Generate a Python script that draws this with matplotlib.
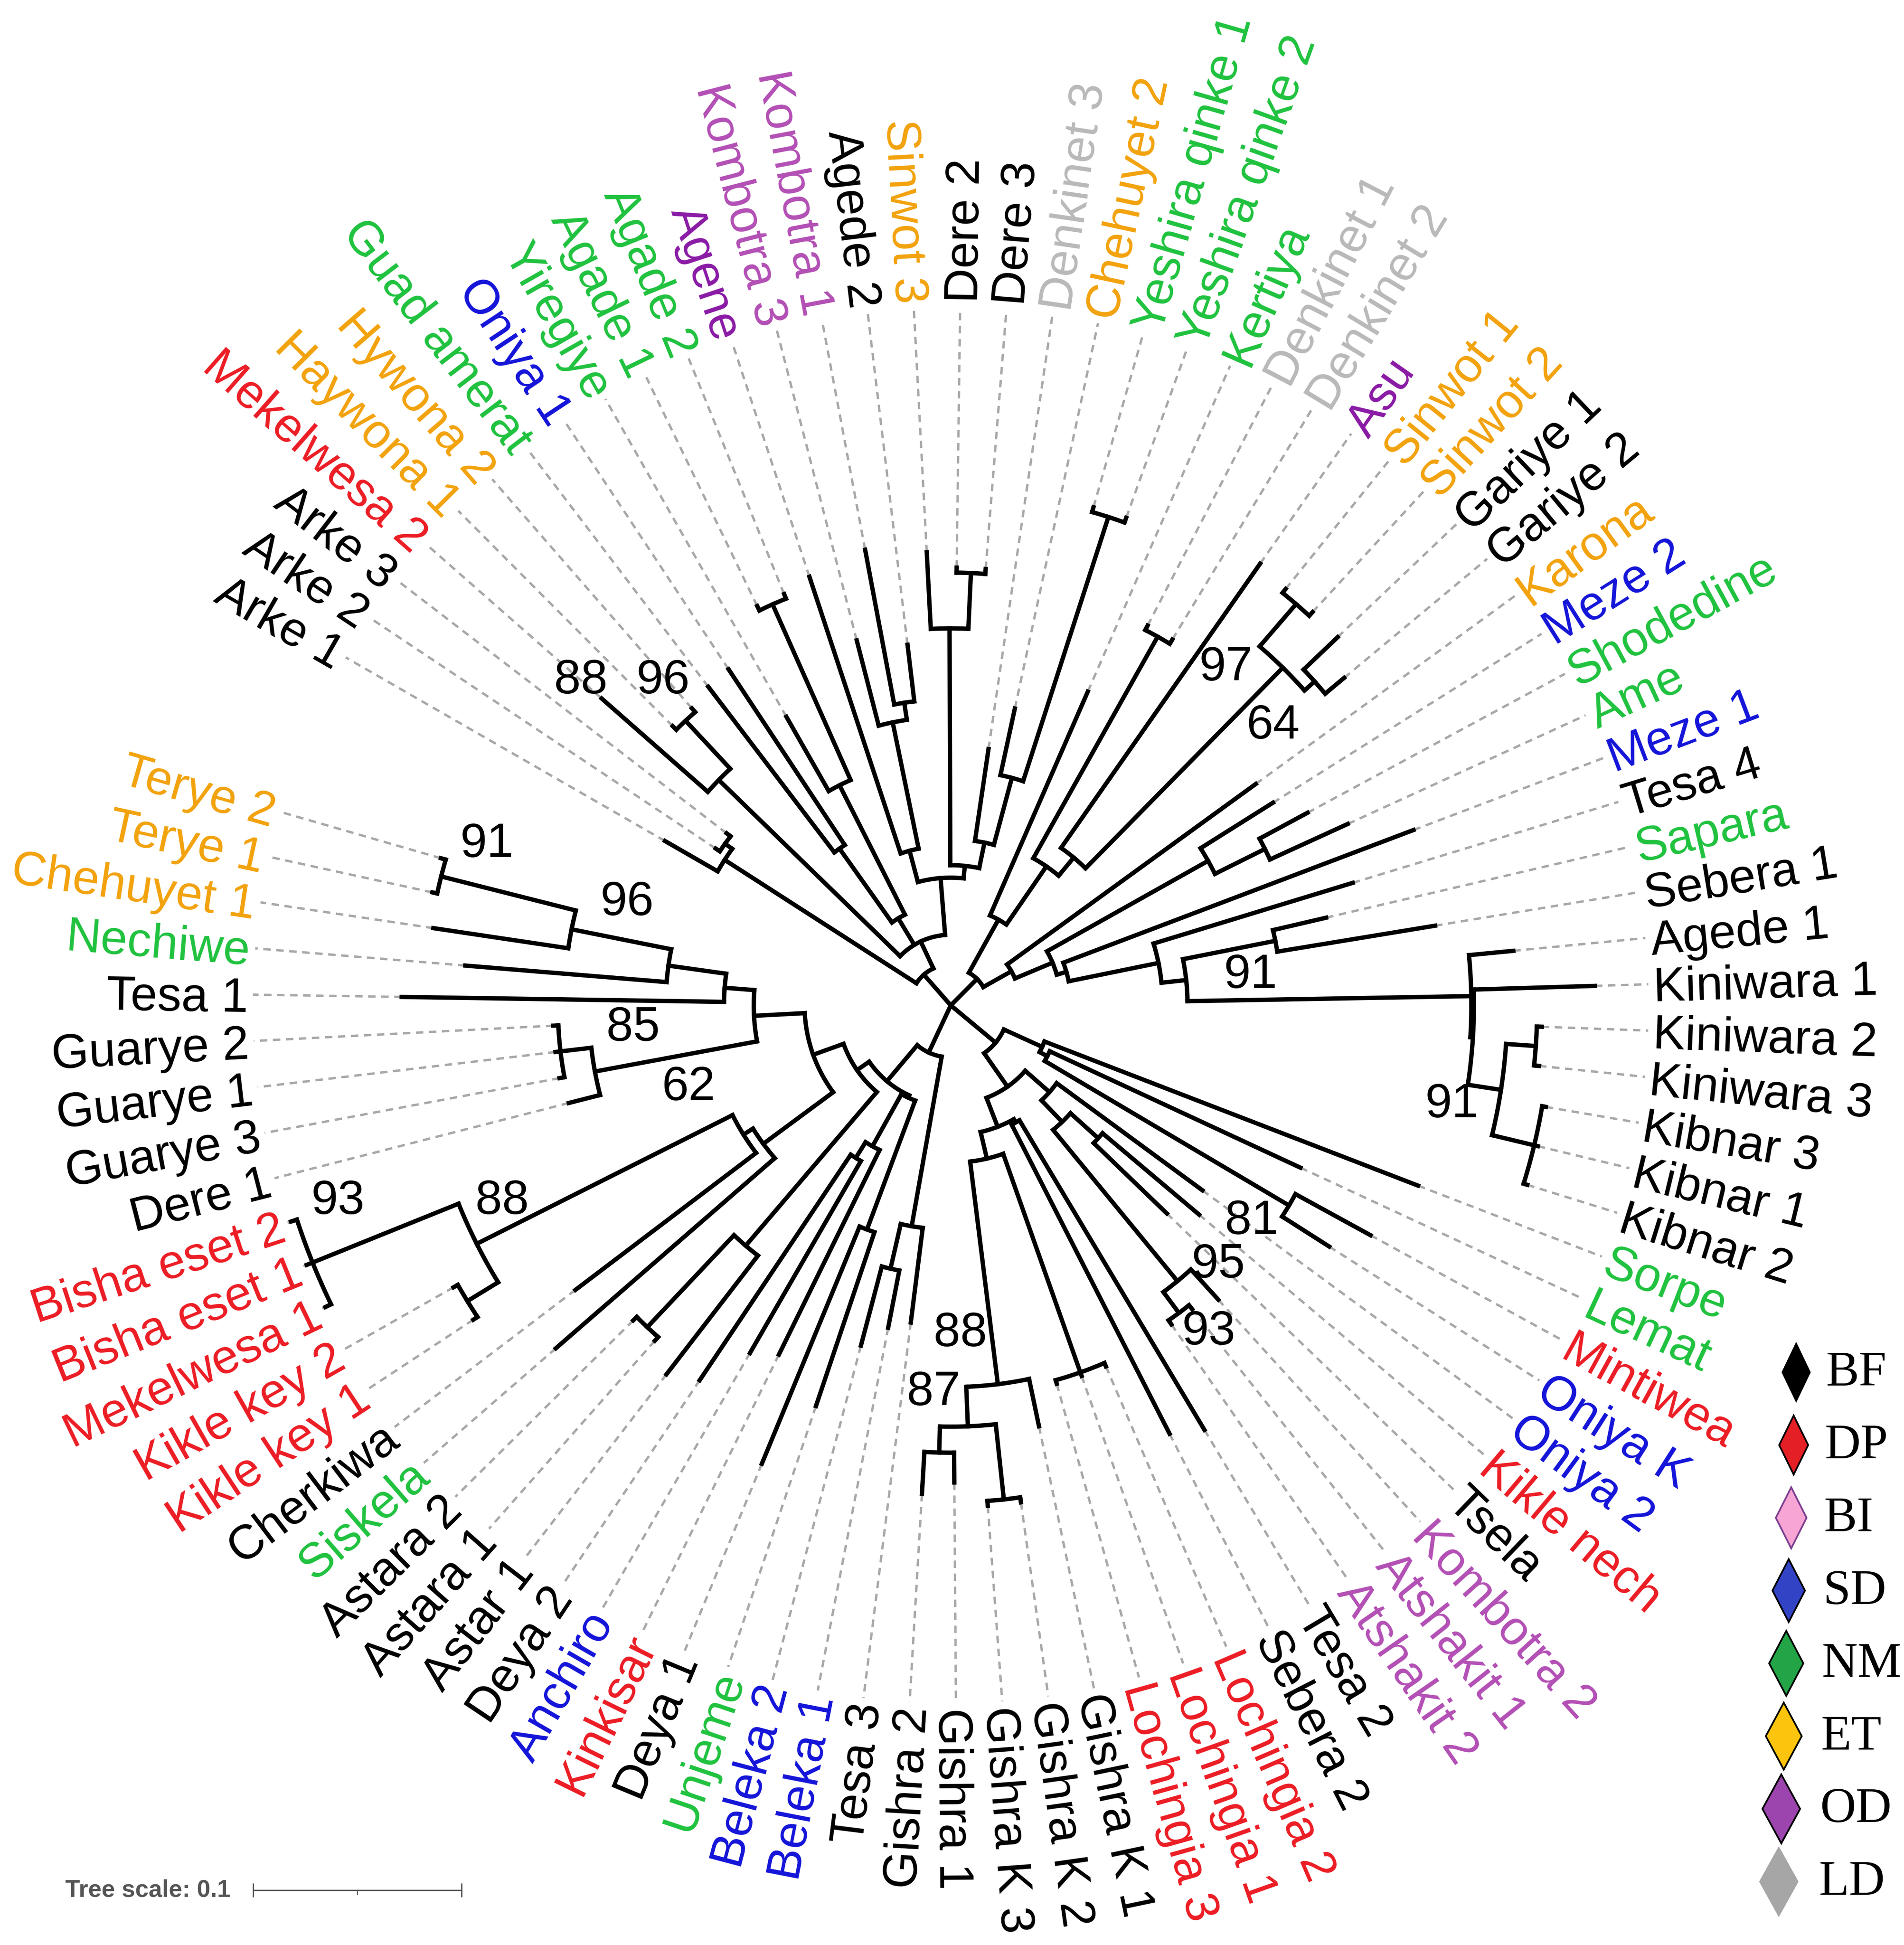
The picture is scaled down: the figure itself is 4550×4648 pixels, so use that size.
import re
import numpy as np
import matplotlib
matplotlib.use("Agg")
import matplotlib.pyplot as plt
from matplotlib.collections import LineCollection
from matplotlib.patches import Polygon

plt.rcParams["lines.scale_dashes"] = False

# ---------------- data ----------------
# four clades hanging off the (multifurcating) root; branch lengths in subst./site,
# internal labels are bootstrap support
CLADE_A = ("((Arke_1:0.0292,(Arke_2:0.0024,Arke_3:0.0024):0.0042):0.1095,"
           "((Mekelwesa_2:0.0679,(Haywona_1:0.0024,Hywona_2:0.0024)96:0.0315)88:0.1214,"
           "((Guad_amerat:0.1000,Oniya_1:0.1012):0.0435,(Yiregiye:0.0411,(Agade_1:0.0024,Agade_2:0.0024):0.0923):0.0696):0.0149,"
           "((Agene:0.1399,(Kombotra_3:0.0423,(Kombotra_1:0.0756,Agede_2:0.0274):0.0083):0.0619):0.0155,"
           "((Sinwot_3:0.0369,(Dere_2:0.0024,Dere_3:0.0024):0.0268):0.1137,"
           "(Denkinet_3:0.0446,(Chehuyet_2:0.0327,(Yeshira_qinke_1:0.0024,Yeshira_qinke_2:0.0024):0.1333):0.0333):0.0125)"
           ":0.0060):0.0274):0.0143):0.0196")
CLADE_B = ("((Kertiya:0.1173,((Denkinet_1:0.0024,Denkinet_2:0.0024):0.1220,"
           "(Asu:0.1667,((Sinwot_1:0.0024,Sinwot_2:0.0024):0.0268,(Gariye_1:0.0226,Gariye_2:0.0119)64:0.0065)97:0.1351)"
           ":0.0113):0.0339):0.0292,"
           "(Karona:0.1476,((Meze_2:0.0411,(Shodedine:0.0262,Ame:0.0411):0.0268):0.0887,"
           "(Meze_1:0.1798,(Tesa_4:0.1000,((Sapara:0.0262,Sebera_1:0.0768):0.0452,"
           "(Agede_1:0.0214,(Kiniwara_1:0.0583,((Kiniwara_2:0.0024,Kiniwara_3:0.0024):0.0143,"
           "(Kibnar_3:0.0018,Kibnar_1:0.0018,Kibnar_2:0.0018):0.0208)91:0.0161):0.0012):0.1363)91:0.0119)"
           ":0.0440):0.0048):0.0196):0.0155):0.0179")
CLADE_C = ("((Sorpe:0.1923,(Lemat:0.1327,(Mintiwea:0.0411,Oniya_K:0.0268)81:0.1363):0.0042):0.0202,"
           "((Oniya_2:0.0869,((Kikle_nech:0.0607,Tsela:0.0488):0.0179,"
           "(Kombotra_2:0.0196,(Atshakit_1:0.0024,Atshakit_2:0.0024)93:0.0125)95:0.0940):0.0143):0.0155,"
           "((Tesa_2:0.1732,Sebera_2:0.1667):0.0018,((Lochingia_2:0.0018,Lochingia_1:0.0018,Lochingia_3:0.0018):0.1113,"
           "(Gishra_K_1:0.0232,((Gishra_K_2:0.0024,Gishra_K_3:0.0024):0.0363,(Gishra_1:0.0143,Gishra_2:0.0202):0.0125)87:0.0190)88:0.1077)"
           ":0.0131):0.0149):0.0196):0.0280")
CLADE_D = ("((Tesa_3:0.0458,(Beleka_1:0.0280,Beleka_2:0.0393):0.0220):0.0827,"
           "(((Unjeme:0.0881,Deya_1:0.1232):0.0661,(Kinkisar:0.1095,(Anchiro:0.1065,Deya_2:0.1304):0.0089):0.0286):0.0012,"
           "((Astar_1:0.0720,(Astara_1:0.0024,Astara_2:0.0024):0.0607):0.0970,"
           "((Siskela:0.1393,(Cherkiwa:0.1089,((Kikle_key_1:0.0024,Kikle_key_2:0.0024):0.0173,"
           "(Mekelwesa_1:0.0030,Bisha_eset_1:0.0030,Bisha_eset_2:0.0030)93:0.0756)88:0.1375):0.0054):0.0417,"
           "((Dere_1:0.0155,(Guarye_3:0.0024,Guarye_1:0.0024,Guarye_2:0.0024)85:0.0149)62:0.0792,"
           "(Tesa_1:0.1548,(Nechiwe:0.0970,(Chehuyet_1:0.0655,(Terye_1:0.0024,Terye_2:0.0024)91:0.0667)96:0.0488)"
           ":0.0280):0.0143):0.0244):0.0155):0.0071):0.0226):0.0250")
NEWICK = "(" + ",".join([CLADE_A, CLADE_B, CLADE_C, CLADE_D]) + ");"

GROUP_MEMBERS = {
    "DP": ["Mekelwesa 2", "Mintiwea", "Kikle nech", "Lochingia 2", "Lochingia 1", "Lochingia 3",
           "Kinkisar", "Kikle key 1", "Kikle key 2", "Mekelwesa 1", "Bisha eset 1", "Bisha eset 2"],
    "ET": ["Haywona 1", "Hywona 2", "Sinwot 3", "Chehuyet 2", "Sinwot 1", "Sinwot 2", "Karona",
           "Chehuyet 1", "Terye 1", "Terye 2"],
    "NM": ["Guad amerat", "Yiregiye", "Agade 1", "Agade 2", "Yeshira qinke 1", "Yeshira qinke 2",
           "Kertiya", "Shodedine", "Ame", "Sapara", "Sorpe", "Lemat", "Unjeme", "Siskela", "Nechiwe"],
    "SD": ["Oniya 1", "Meze 2", "Meze 1", "Oniya K", "Oniya 2", "Beleka 1", "Beleka 2", "Anchiro"],
    "OD": ["Agene", "Asu"],
    "BI": ["Kombotra 3", "Kombotra 1", "Kombotra 2", "Atshakit 1", "Atshakit 2"],
    "LD": ["Denkinet 3", "Denkinet 1", "Denkinet 2"],
}
LABEL_COLOR = {"BF": "#000000", "DP": "#ec1c24", "BI": "#b34fb5", "SD": "#1414d9",
               "NM": "#1fc23e", "ET": "#f2a20c", "OD": "#8a1aa5", "LD": "#b9b9b9"}

LEGEND_GROUPS = ["BF", "DP", "BI", "SD", "NM", "ET", "OD", "LD"]
LEGEND_FILL = ["#000000", "#e41f26", "#f6a5d5", "#3343c6", "#22a447", "#fcc40d", "#9d45ae", "#a6a6a6"]
LEGEND_EDGE = ["#000000", "#000000", "#7d3f8f", "#000000", "#000000", "#000000", "#000000", "none"]
SCALE_VALUE = 0.1

# ---------------- layout (canvas units = 1536 x 1569) ----------------
PX_PER_UNIT = 1680.0
CX, CY = 767.0, 811.0
START_DEG, ARC_DEG = 150.1, 350.0
R_LABEL = 567.0
PT = 0.72 * 4550 / 1536          # points per canvas unit
LABEL_PT = 38.8 * PT
# bootstrap text offset from its node (radius, degrees), pre-order
BOOT_OFFSETS = [(136, 2.9), (36, -1.4), (-31, 5.3), (-49, -0.75), (52, -0.5), (-37, -2.5),
                (-18, -5.1), (13, 6.4), (27, 1.7), (-43, -5.4), (-27, -4.9), (-33, -3.1),
                (-36, -4.2), (-70, 6.9), (-60, -2.6), (-38, -6.2), (-28, -4.9)]


def parse_newick(s):
    s = s.strip().rstrip(";")
    pos = 0

    def read():
        nonlocal pos
        node = {"children": [], "name": "", "length": 0.0}
        if s[pos] == "(":
            pos += 1
            node["children"].append(read())
            while s[pos] == ",":
                pos += 1
                node["children"].append(read())
            pos += 1
        m = re.match(r"[^:,()]*", s[pos:])
        node["name"] = m.group(0).replace("_", " ")
        pos += m.end()
        if pos < len(s) and s[pos] == ":":
            m = re.match(r":([-0-9.eE]+)", s[pos:])
            node["length"] = float(m.group(1))
            pos += m.end()
        return node
    return read()


def n_leaves(n):
    return 1 if not n["children"] else sum(n_leaves(c) for c in n["children"])


tree = parse_newick(NEWICK)
STEP = ARC_DEG / n_leaves(tree)
leaves, internal = [], []


def place(n, depth):
    n["r"] = depth * PX_PER_UNIT
    if not n["children"]:
        n["a"] = START_DEG - len(leaves) * STEP
        leaves.append(n)
        return
    internal.append(n)
    for c in n["children"]:
        place(c, depth + c["length"])
    n["a"] = 0.5 * (n["children"][0]["a"] + n["children"][-1]["a"])


place(tree, 0.0)


def xy(r, a):
    t = np.radians(a)
    return (CX + r * np.cos(t), CY - r * np.sin(t))


branch = []


def edges(n):
    for c in n["children"]:
        branch.append([xy(n["r"], c["a"]), xy(c["r"], c["a"])])
        edges(c)
    if n["children"] and n["r"] > 0:
        a0, a1 = n["children"][0]["a"], n["children"][-1]["a"]
        ts = np.linspace(a0, a1, int(abs(a1 - a0) * 3) + 2)
        branch.append([xy(n["r"], t) for t in ts])


edges(tree)
dash = [[xy(l["r"], l["a"]), xy(R_LABEL - 4, l["a"])] for l in leaves]

fig = plt.figure(figsize=(45.5, 46.48), dpi=100)
ax = fig.add_axes([0, 0, 1, 1])
ax.set_xlim(0, 1536)
ax.set_ylim(1569, 0)
ax.axis("off")

ax.add_collection(LineCollection(dash, colors="#a8a8a8", linewidths=1.9 * PT,
                                 linestyles=[(0, (6 * PT, 4.5 * PT))], capstyle="butt", zorder=1))
ax.add_collection(LineCollection(branch, colors="black", linewidths=3.5 * PT,
                                 capstyle="projecting", joinstyle="miter", zorder=2))

group_of = {name: g for g, names in GROUP_MEMBERS.items() for name in names}
for l in leaves:
    a = (l["a"] + 180) % 360 - 180
    x, y = xy(R_LABEL, l["a"])
    if -90 < a <= 90:
        rot, ha = a, "left"
    else:
        rot, ha = (a - 180 if a > 0 else a + 180), "right"
    ax.text(x, y, l["name"], rotation=rot, rotation_mode="anchor", ha=ha, va="center_baseline",
            fontsize=LABEL_PT, family="Liberation Sans",
            color=LABEL_COLOR[group_of.get(l["name"], "BF")], zorder=3)

boot_nodes = [n for n in internal if n["name"]]
for n, (dr, da) in zip(boot_nodes, BOOT_OFFSETS):
    x, y = xy(n["r"] + dr, n["a"] + da)
    ax.text(x, y, n["name"], ha="center", va="center", fontsize=LABEL_PT,
            family="Liberation Sans", color="black", zorder=3)

# legend (diamonds)
for k, (g, fc, ec) in enumerate(zip(LEGEND_GROUPS, LEGEND_FILL, LEGEND_EDGE)):
    cx, cy = 1449 - 2.0 * k, 1107 + 58.7 * k
    w, h = 22 + 1.4 * k, 46 + 1.6 * k
    ax.add_patch(Polygon([(cx - w / 2, cy), (cx, cy - h / 2), (cx + w / 2, cy), (cx, cy + h / 2)],
                         closed=True, facecolor=fc, edgecolor=ec, lw=1.4 * PT, zorder=3))
    ax.text(1473 - 0.8 * k, cy + 1, g, ha="left", va="center", fontsize=40 * PT,
            family="Liberation Serif", color="black", zorder=3)

# tree scale
x0, yb = 204.3, 1524.8
x1 = x0 + SCALE_VALUE * PX_PER_UNIT
sc = "#555555"
ax.plot([x0, x1], [yb, yb], color=sc, lw=1.1 * PT, solid_capstyle="butt")
for xt in (x0, x1):
    ax.plot([xt, xt], [yb - 5, yb + 5], color=sc, lw=1.1 * PT)
ax.plot([(x0 + x1) / 2] * 2, [yb, yb + 3.5], color=sc, lw=0.8 * PT)
ax.text(52.7, yb, f"Tree scale: {SCALE_VALUE}", ha="left", va="center", fontsize=19.5 * PT,
        fontweight="bold", family="Liberation Sans", color=sc)

fig.savefig("out.png", dpi=100)
